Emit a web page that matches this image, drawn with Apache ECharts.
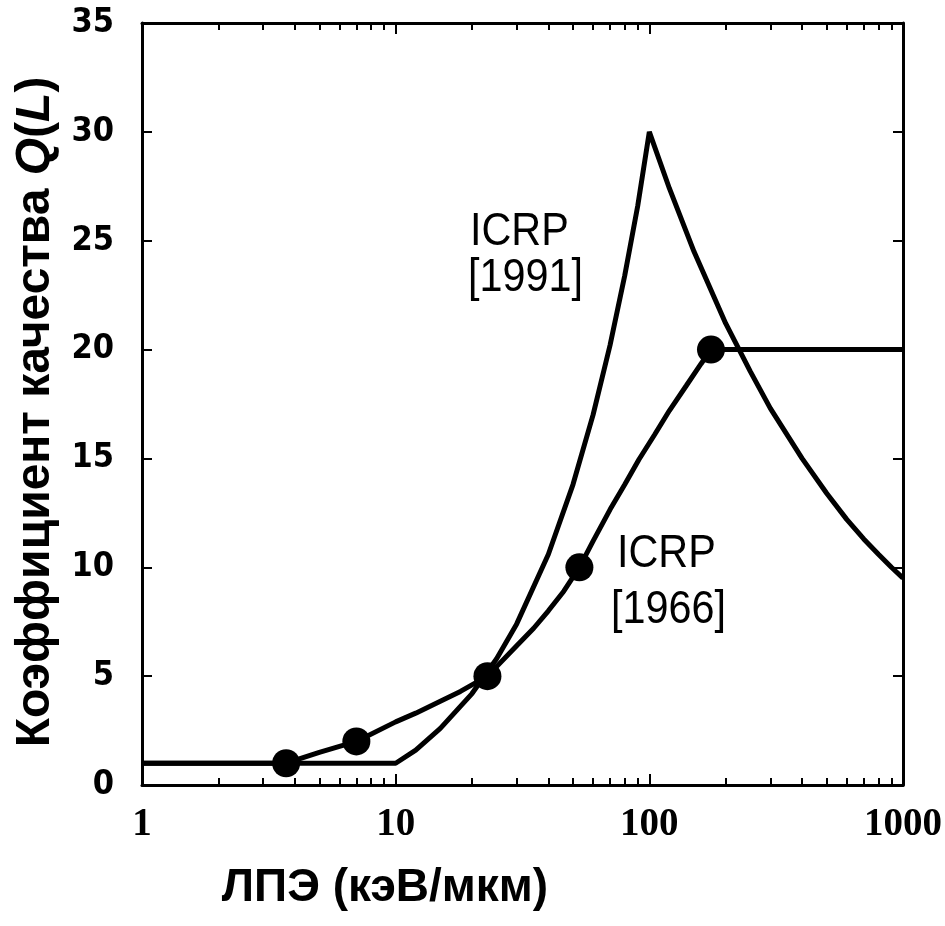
<!DOCTYPE html>
<html>
<head>
<meta charset="utf-8">
<script src="https://cdn.jsdelivr.net/npm/echarts@6/dist/echarts.min.js"></script>
<style>
html,body{margin:0;padding:0;background:#fff;}
#chart{width:945px;height:926px;}
</style>
</head>
<body>
<div id="chart"></div>
<script>
// ---- data ----
var icrp1991L = [1, 10, 12, 15, 20, 25, 30, 40, 50, 60, 70, 80, 90, 100, 120, 150, 200, 250, 300, 400, 500, 600, 700, 800, 900, 1000];
var icrp1991Q = [1, 1, 1.6, 2.6, 4.2, 5.8, 7.4, 10.6, 13.8, 17.0, 20.2, 23.4, 26.6, 30, 27.4, 24.5, 21.2, 19.0, 17.3, 15.0, 13.4, 12.2, 11.3, 10.6, 10.0, 9.5];
var icrp1966L = [1, 3.7, 5, 7, 10, 12, 15, 18, 23, 30, 35, 40, 46, 53, 60, 70, 80, 91, 105, 120, 140, 160, 175, 1000];
var icrp1966Q = [1, 1, 1.5, 2, 2.9, 3.3, 3.85, 4.3, 5, 6.4, 7.2, 8.0, 8.9, 10, 11.2, 12.65, 13.8, 14.95, 16.1, 17.2, 18.35, 19.35, 20, 20];
var markerL = [3.7, 7, 23, 53, 175];
var markerQ = [1, 2, 5, 10, 20];
var xMajorTicks = [1, 10, 100, 1000];
var xMinorTicks = [2, 3, 4, 5, 6, 7, 8, 9, 20, 30, 40, 50, 60, 70, 80, 90, 200, 300, 400, 500, 600, 700, 800, 900];
var xTickLabels = ['1', '10', '100', '1000'];
var yTicks = [0, 5, 10, 15, 20, 25, 30, 35];
var xTitle = 'ЛПЭ (кэВ/мкм)';
var yTitlePlain = 'Коэффициент качества ';
var yTitleItalic = 'Q';
var yTitleParen1 = '(';
var yTitleL = 'L';
var yTitleParen2 = ')';
var label1991 = ['ICRP', '[1991]'];
var label1966 = ['ICRP', '[1966]'];

function zip(a, b) { return a.map(function (v, i) { return [v, b[i]]; }); }

var chart = echarts.init(document.getElementById('chart'), null, {renderer: 'canvas'});

var GL = 142, GR = 903, GT = 23, GB = 785;

function logAxis(pos, major, showLabel) {
  return {
    type: 'log', logBase: 10, min: 1, max: 1000, position: pos,
    axisLine: {show: major, lineStyle: {color: '#000', width: 3}},
    axisTick: {show: true, inside: true, length: major ? 11 : 7, customValues: major ? xMajorTicks : xMinorTicks,
      lineStyle: {color: '#000', width: 2}},
    axisLabel: {show: showLabel, customValues: xMajorTicks, margin: 20,
      fontFamily: 'Liberation Serif', fontWeight: 'bold', fontSize: 39, color: '#000',
      formatter: function (v) { var i = xMajorTicks.indexOf(v); return i >= 0 ? xTickLabels[i] : ''; }},
    splitLine: {show: false}
  };
}

var condensed = '"DejaVu Sans Condensed", "Liberation Sans", sans-serif';

function labelText(x, y, txt) {
  return {type: 'text', x: x, y: y, scaleX: 0.88, scaleY: 1,
    style: {text: txt, font: '47px "Liberation Sans"', fill: '#000', align: 'left', verticalAlign: 'top'}};
}

var option = {
  animation: false,
  backgroundColor: '#fff',
  grid: {left: GL, right: 945 - GR, top: GT, bottom: 926 - GB, containLabel: false},
  xAxis: [
    logAxis('bottom', true, true),
    logAxis('bottom', false, false),
    logAxis('top', true, false),
    logAxis('top', false, false)
  ],
  yAxis: [
    {type: 'value', min: 0, max: 35, interval: 5, position: 'left',
     axisLine: {show: true, lineStyle: {color: '#000', width: 3}},
     axisTick: {show: true, inside: true, length: 10, lineStyle: {color: '#000', width: 2}},
     axisLabel: {margin: 28, fontFamily: condensed, fontWeight: 'bold', fontSize: 34, color: '#000',
       customValues: yTicks},
     splitLine: {show: false}},
    {type: 'value', min: 0, max: 35, interval: 5, position: 'right',
     axisLine: {show: true, lineStyle: {color: '#000', width: 3}},
     axisTick: {show: true, inside: true, length: 10, lineStyle: {color: '#000', width: 2}},
     axisLabel: {show: false},
     splitLine: {show: false}}
  ],
  series: [
    {type: 'line', name: 'ICRP 1991', xAxisIndex: 0, yAxisIndex: 0, data: zip(icrp1991L, icrp1991Q),
     showSymbol: false, symbol: 'none', lineStyle: {color: '#000', width: 5}, smooth: false},
    {type: 'line', name: 'ICRP 1966', xAxisIndex: 0, yAxisIndex: 0, data: zip(icrp1966L, icrp1966Q),
     showSymbol: false, symbol: 'none', lineStyle: {color: '#000', width: 5}, smooth: false},
    {type: 'scatter', name: 'ICRP 1966 points', xAxisIndex: 0, yAxisIndex: 0, data: zip(markerL, markerQ),
     symbol: 'circle', symbolSize: 28, itemStyle: {color: '#000', opacity: 1}}
  ],
  graphic: [
    labelText(470, 209, label1991[0]),
    labelText(468, 255, label1991[1]),
    labelText(617, 531, label1966[0]),
    labelText(611, 587, label1966[1]),
    {type: 'text', x: 385, y: 888, style: {text: xTitle, font: 'bold 46px "Liberation Sans"', fill: '#000',
      align: 'center', verticalAlign: 'middle'}},
    {type: 'text', x: 36, y: 412, rotation: Math.PI / 2,
     style: {
       text: '{n|' + yTitlePlain + '}{i|' + yTitleItalic + '}{n|' + yTitleParen1 + '}{i|' + yTitleL + '}{n|' + yTitleParen2 + '}',
       align: 'center', verticalAlign: 'middle', fill: '#000',
       rich: {
         n: {fontFamily: 'Liberation Sans', fontWeight: 'bold', fontSize: 48, fill: '#000'},
         i: {fontFamily: 'Liberation Sans', fontWeight: 'bold', fontStyle: 'italic', fontSize: 48, fill: '#000'}
       }
     }}
  ]
};
chart.setOption(option);
</script>
</body>
</html>
